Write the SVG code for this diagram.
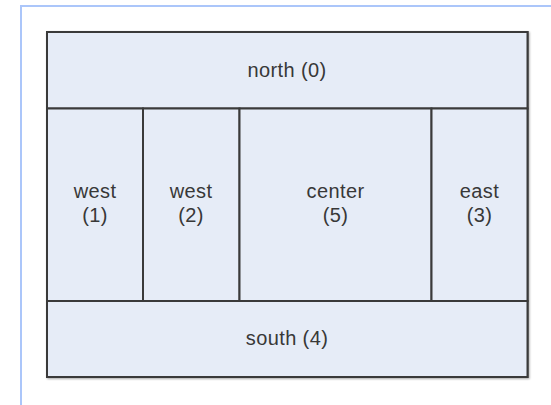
<svg xmlns="http://www.w3.org/2000/svg" width="551" height="405" viewBox="0 0 551 405">
  <style>
    .cell { fill: #e6ecf7; stroke: #3a3a3a; stroke-width: 2; }
    .lbl { font-family: "Liberation Sans", Arial, sans-serif; font-size: 20px; letter-spacing: 0.4px; fill: #383838; text-anchor: middle; }
    .frame { fill: none; stroke: #abc6fa; stroke-width: 2; }
  </style>
  <defs>
    <filter id="sh" x="-5%" y="-5%" width="110%" height="110%">
      <feGaussianBlur in="SourceAlpha" stdDeviation="1"/>
      <feOffset dx="1" dy="1" result="b"/>
      <feComponentTransfer><feFuncA type="linear" slope="0.35"/></feComponentTransfer>
      <feMerge><feMergeNode/><feMergeNode in="SourceGraphic"/></feMerge>
    </filter>
  </defs>
  <rect width="551" height="405" fill="#ffffff"/>
  <path class="frame" d="M21 405 V6 H551"/>
  <g id="container" filter="url(#sh)">
    <rect x="47" y="32" width="480.5" height="345" class="cell"/>
  </g>
  <g id="north">
    <rect x="47" y="32" width="480.5" height="76.5" class="cell"/>
    <text class="lbl" x="287" y="77">north (0)</text>
  </g>
  <g id="west1">
    <rect x="47" y="108.5" width="96" height="192.5" class="cell"/>
    <text class="lbl" x="95" y="197.5">west</text>
    <text class="lbl" x="95" y="222">(1)</text>
  </g>
  <g id="west2">
    <rect x="143" y="108.5" width="96.5" height="192.5" class="cell"/>
    <text class="lbl" x="191" y="197.5">west</text>
    <text class="lbl" x="191" y="222">(2)</text>
  </g>
  <g id="center">
    <rect x="239.5" y="108.5" width="192" height="192.5" class="cell"/>
    <text class="lbl" x="335.5" y="197.5">center</text>
    <text class="lbl" x="335.5" y="222">(5)</text>
  </g>
  <g id="east">
    <rect x="431.5" y="108.5" width="96" height="192.5" class="cell"/>
    <text class="lbl" x="479.5" y="197.5">east</text>
    <text class="lbl" x="479.5" y="222">(3)</text>
  </g>
  <g id="south">
    <rect x="47" y="301" width="480.5" height="76" class="cell"/>
    <text class="lbl" x="287" y="345">south (4)</text>
  </g>
  <g id="connectors"></g>
</svg>
